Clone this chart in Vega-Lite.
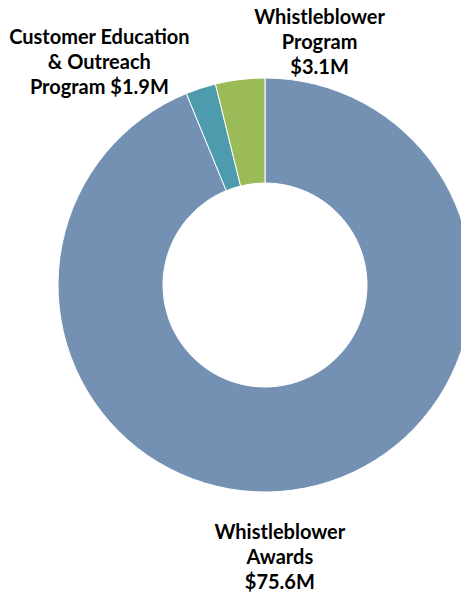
{
  "$schema": "https://vega.github.io/schema/vega-lite/v6.json",
  "width": 392,
  "height": 414,
  "padding": {"left": 69, "top": 78, "right": 0, "bottom": 103},
  "autosize": {"type": "none"},
  "background": "white",
  "data": {"values": [
    {"category": "Whistleblower Awards", "label": "Whistleblower\nAwards\n$75.6M", "amount": 75.6, "order": 1},
    {"category": "Customer Education & Outreach Program", "label": "Customer Education\n& Outreach\nProgram $1.9M", "amount": 1.9, "order": 2},
    {"category": "Whistleblower Program", "label": "Whistleblower\nProgram\n$3.1M", "amount": 3.1, "order": 3}
  ]},
  "encoding": {
    "theta": {"field": "amount", "type": "quantitative", "stack": true},
    "order": {"field": "order", "type": "quantitative"}
  },
  "layer": [
    {
      "mark": {"type": "arc", "outerRadius": 207, "innerRadius": 102, "stroke": "white", "strokeWidth": 1},
      "encoding": {
        "color": {
          "field": "category", "type": "nominal", "legend": null,
          "scale": {
            "domain": ["Whistleblower Awards", "Customer Education & Outreach Program", "Whistleblower Program"],
            "range": ["#7491B4", "#4E9BAD", "#9BBB59"]
          }
        }
      }
    },
    {
      "mark": {"type": "text", "radius": 278, "dx": -39, "dy": -25, "font": "Lato", "fontWeight": "bold", "fontSize": 20, "lineBreak": "\n", "lineHeight": 25, "align": "center", "baseline": "middle", "color": "#000000"},
      "encoding": {"text": {"condition": {"test": "datum.category === 'Whistleblower Awards'", "field": "label"}, "value": ""}}
    },
    {
      "mark": {"type": "text", "radius": 234, "dx": -93, "dy": -25, "font": "Lato", "fontWeight": "bold", "fontSize": 20, "lineBreak": "\n", "lineHeight": 25, "align": "center", "baseline": "middle", "color": "#000000"},
      "encoding": {"text": {"condition": {"test": "datum.category === 'Customer Education & Outreach Program'", "field": "label"}, "value": ""}}
    },
    {
      "mark": {"type": "text", "radius": 244, "dx": 84, "dy": -25, "font": "Lato", "fontWeight": "bold", "fontSize": 20, "lineBreak": "\n", "lineHeight": 25, "align": "center", "baseline": "middle", "color": "#000000"},
      "encoding": {"text": {"condition": {"test": "datum.category === 'Whistleblower Program'", "field": "label"}, "value": ""}}
    }
  ]
}
